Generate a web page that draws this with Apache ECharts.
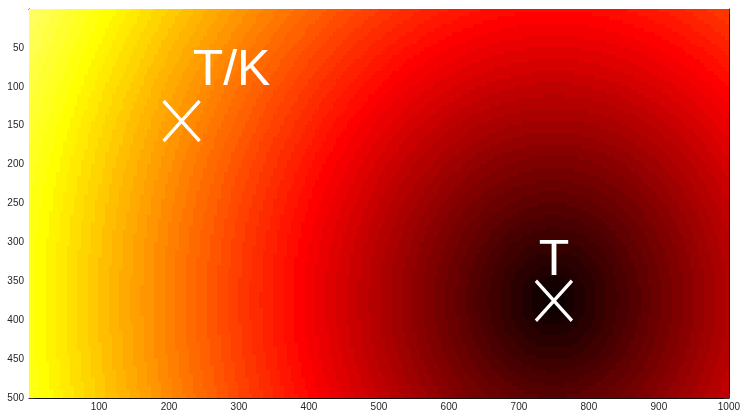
<!DOCTYPE html>
<html>
<head>
<meta charset="utf-8">
<script src="https://cdn.jsdelivr.net/npm/echarts@6/dist/echarts.min.js"></script>
<style>
  html, body { margin: 0; padding: 0; background: #fff; }
  #chart { width: 743px; height: 414px; }
</style>
</head>
<body>
<div id="chart"></div>
<script>
// Image extent (pixels of the map) and tick spacing
const xRange = [0, 1000];
const yRange = [0, 500];
const xTickStep = 100;
const yTickStep = 50;

// Source point T and the scaled point T/K
const markerNames = ['T/K', 'T'];
const markerX = [218, 750];
const markerY = [144, 375];

// Distance field: distance of each pixel to T, colour scale top and colormap levels
const fieldSource = [750, 375];
const fieldMax = 990;
const colorLevels = 64;
const cellSize = 5;

// MATLAB "hot" colormap, evenly spaced stops
const hotStops = ['#000000', '#550000', '#aa0000', '#ff0000', '#ff5500', '#ffaa00', '#ffff00', '#ffff80', '#ffffff'];

// Cells: [cx, cy, level]
const cells = [];
for (let y = yRange[0]; y < yRange[1]; y += cellSize) {
  for (let x = xRange[0]; x < xRange[1]; x += cellSize) {
    const cx = x + cellSize / 2, cy = y + cellSize / 2;
    const d = Math.hypot(cx - fieldSource[0], cy - fieldSource[1]);
    let idx = Math.floor(d / fieldMax * colorLevels) + 1;
    if (idx > colorLevels) idx = colorLevels;
    cells.push([cx, cy, idx / colorLevels]);
  }
}

const markers = markerNames.map((n, i) => ({ name: n, value: [markerX[i], markerY[i]] }));

const labelFont = '"Liberation Sans Narrow", "Liberation Sans", Arial, sans-serif';
const axisColor = '#111';
const tickStyle = { show: true, inside: true, length: 5, lineStyle: { color: '#333', width: 1 } };

const chart = echarts.init(document.getElementById('chart'), null, { renderer: 'canvas' });
chart.setOption({
  animation: false,
  backgroundColor: '#ffffff',
  grid: { left: 29, right: 10, top: 9, bottom: 16, containLabel: false },
  xAxis: [
    {
      type: 'value', min: xRange[0], max: xRange[1], interval: xTickStep, position: 'bottom',
      axisLine: { show: true, onZero: false, lineStyle: { color: axisColor, width: 1 } },
      axisTick: tickStyle,
      splitLine: { show: false },
      axisLabel: {
        margin: 4, fontSize: 10, color: '#262626', fontFamily: labelFont,
        formatter: v => (v === 0 ? '' : String(v))
      }
    },
    {
      type: 'value', min: xRange[0], max: xRange[1], interval: xTickStep, position: 'top',
      axisLine: { show: true, onZero: false, lineStyle: { color: axisColor, width: 1 } },
      axisTick: tickStyle, splitLine: { show: false }, axisLabel: { show: false }
    }
  ],
  yAxis: [
    {
      type: 'value', min: yRange[0], max: yRange[1], interval: yTickStep, inverse: true, position: 'left',
      axisLine: { show: true, onZero: false, lineStyle: { color: axisColor, width: 1 } },
      axisTick: tickStyle,
      splitLine: { show: false },
      axisLabel: {
        margin: 5, fontSize: 10, color: '#262626', fontFamily: labelFont,
        formatter: v => (v === 0 ? '' : String(v))
      }
    },
    {
      type: 'value', min: yRange[0], max: yRange[1], interval: yTickStep, inverse: true, position: 'right',
      axisLine: { show: true, onZero: false, lineStyle: { color: axisColor, width: 1 } },
      axisTick: tickStyle, splitLine: { show: false }, axisLabel: { show: false }
    }
  ],
  visualMap: {
    show: false, type: 'continuous', seriesIndex: 0, dimension: 2, min: 0, max: 1,
    inRange: { color: hotStops }
  },
  series: [
    {
      type: 'custom',
      xAxisIndex: 0, yAxisIndex: 0,
      data: cells,
      encode: { x: 0, y: 1 },
      clip: true,
      silent: true,
      renderItem: function (params, api) {
        const cx = api.value(0), cy = api.value(1);
        const p0 = api.coord([cx - cellSize / 2, cy - cellSize / 2]);
        const p1 = api.coord([cx + cellSize / 2, cy + cellSize / 2]);
        const x0 = Math.floor(Math.min(p0[0], p1[0]));
        const y0 = Math.floor(Math.min(p0[1], p1[1]));
        const x1 = Math.ceil(Math.max(p0[0], p1[0]));
        const y1 = Math.ceil(Math.max(p0[1], p1[1]));
        return {
          type: 'rect',
          shape: { x: x0, y: y0, width: x1 - x0, height: y1 - y0 },
          style: { fill: api.visual('color') }
        };
      },
      z: 1
    },
    {
      type: 'scatter',
      xAxisIndex: 0, yAxisIndex: 0,
      data: markers,
      symbol: 'path://M0,0L10,10M10,0L0,10',
      symbolSize: [36, 40],
      itemStyle: { color: 'rgba(0,0,0,0)', borderColor: '#ffffff', borderWidth: 3.5, opacity: 1 },
      label: {
        show: true,
        position: 'inside',
        formatter: p => p.name,
        color: '#ffffff',
        opacity: 1,
        fontSize: 50,
        fontFamily: '"Liberation Sans", Arial, sans-serif',
        align: 'center',
        verticalAlign: 'middle'
      },
      labelLayout: function (params) {
        const i = params.dataIndex;
        return i === 0 ? { dx: 50, dy: -50 } : { dx: 0, dy: -40 };
      },
      silent: true,
      z: 5
    }
  ]
});
</script>
</body>
</html>
